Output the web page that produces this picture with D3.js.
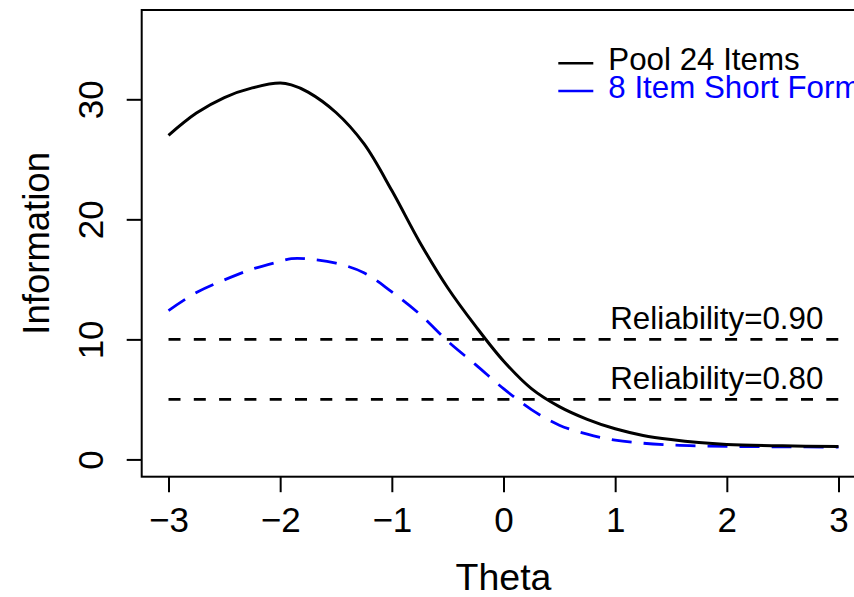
<!DOCTYPE html>
<html><head><meta charset="utf-8">
<script src="https://cdn.jsdelivr.net/npm/d3@7"></script>
<style>body{margin:0;background:#fff;} svg{display:block;} text{font-family:"Liberation Sans",Arial,Helvetica,sans-serif;}</style>
</head><body>
<svg id="c" width="854" height="597"></svg>
<script>
const theta = [-3,-2.75,-2.5,-2.25,-2,-1.9,-1.75,-1.5,-1.25,-1,-0.75,-0.5,-0.25,0,0.25,0.5,0.75,1,1.25,1.5,1.75,2,2.5,3];
const pool24 = [27.0,28.85,30.15,30.95,31.35,31.2,30.6,28.9,26.3,22.4,18.1,14.3,11.1,8.2,5.9,4.4,3.34,2.55,2.0,1.65,1.4,1.25,1.13,1.08];
const short8 = [12.4,13.9,14.95,15.85,16.5,16.72,16.7,16.35,15.55,13.95,12.1,9.85,7.9,5.9,4.15,2.85,2.1,1.6,1.35,1.2,1.12,1.08,1.05,1.03];
const xTicks = [-3,-2,-1,0,1,2,3];
const yTicks = [0,10,20,30];
const refLines = [{y:10,label:"Reliability=0.90"},{y:5,label:"Reliability=0.80"}];
const legendItems = [{label:"Pool 24 Items",color:"#000000"},{label:"8 Item Short Form",color:"#0000FF"}];

const svg = d3.select("#c");
const L = 141.7, R = 865.3, T = 10, B = 476.7;
const x = d3.scaleLinear().domain([-3.24,3.24]).range([L,R]);
const y = d3.scaleLinear().domain([-1.44,37.44]).range([B,T]);

const defs = svg.append("defs");
defs.append("clipPath").attr("id","clip").append("rect").attr("x",L).attr("y",T).attr("width",R-L).attr("height",B-T);

const plot = svg.append("g").attr("clip-path","url(#clip)");

plot.selectAll(".ref").data(refLines).enter().append("line")
  .attr("x1",x(-3)).attr("x2",x(3)).attr("y1",d=>y(d.y)).attr("y2",d=>y(d.y))
  .attr("stroke","#000").attr("stroke-width",2.6).attr("stroke-dasharray","12,13.3");

const line = d3.line().x(d=>x(d[0])).y(d=>y(d[1])).curve(d3.curveCatmullRom.alpha(0.5));
plot.append("path").datum(theta.map((t,i)=>[t,short8[i]]))
  .attr("d",line).attr("fill","none").attr("stroke","#0000FF").attr("stroke-width",2.8)
  .attr("stroke-dasharray","20,12");
plot.append("path").datum(theta.map((t,i)=>[t,pool24[i]]))
  .attr("d",line).attr("fill","none").attr("stroke","#000").attr("stroke-width",3);

svg.selectAll(".rl").data(refLines).enter().append("text")
  .attr("x",x(1.91)).attr("y",d=>y(d.y)-10.7).attr("text-anchor","middle")
  .attr("font-size",31.3).attr("fill","#000").text(d=>d.label);

svg.append("rect").attr("x",L).attr("y",T).attr("width",R-L).attr("height",B-T)
  .attr("fill","none").attr("stroke","#000").attr("stroke-width",2);

const xa = svg.append("g").attr("transform",`translate(0,${B})`)
  .call(d3.axisBottom(x).tickValues(xTicks).tickSize(15.5).tickPadding(8).tickFormat(d=>d<0?"\u2212"+Math.abs(d):d));
xa.select(".domain").remove();
xa.selectAll("line").attr("stroke-width",2);
xa.selectAll("text").attr("font-size",35).attr("font-family",'"Liberation Sans",Arial,sans-serif').attr("fill","#000").attr("dy",null).attr("y",55);

const ya = svg.append("g").attr("transform",`translate(${L},0)`)
  .call(d3.axisLeft(y).tickValues(yTicks).tickSize(15));
ya.select(".domain").remove();
ya.selectAll("line").attr("stroke-width",2);
ya.selectAll("text").remove();
ya.selectAll(".tick").append("text")
  .attr("transform","translate(-38.7,0) rotate(-90)").attr("text-anchor","middle")
  .attr("font-size",35).attr("fill","#000").text(d=>d);

svg.append("text").attr("x",x(0)).attr("y",590).attr("text-anchor","middle")
  .attr("font-size",37.5).attr("fill","#000").text("Theta");
svg.append("text").attr("transform",`translate(49,${(T+B)/2}) rotate(-90)`).attr("text-anchor","middle")
  .attr("font-size",36.5).attr("fill","#000").text("Information");

const lg = svg.selectAll(".lg").data(legendItems).enter().append("g")
  .attr("transform",(d,i)=>`translate(0,${63.3+i*27.7})`);
lg.append("line").attr("x1",558.3).attr("x2",593.3).attr("y1",0).attr("y2",0)
  .attr("stroke",d=>d.color).attr("stroke-width",2.4);
lg.append("text").attr("x",608.3).attr("y",6.8).attr("font-size",31.3).attr("fill",d=>d.color).text(d=>d.label);
</script>
</body></html>
